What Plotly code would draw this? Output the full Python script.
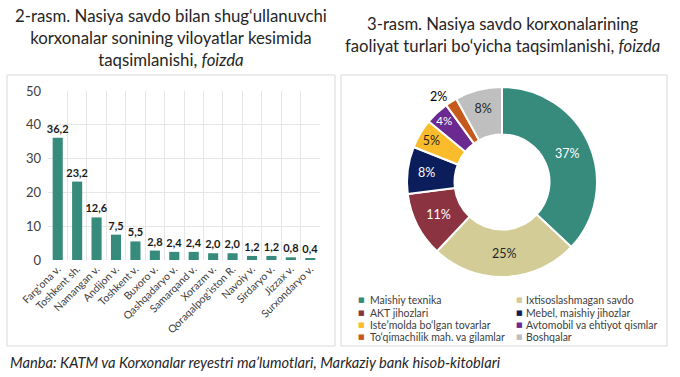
import plotly.graph_objects as go

W, H = 680, 377

# ---------------- data ----------------
regions = ["Farg‘ona v.", "Toshkent sh.", "Namangan v.", "Andijon v.", "Toshkent v.",
           "Buxoro v.", "Qashqadaryo v.", "Samarqand v.", "Xorazm v.", "Qoraqalpog‘iston R.",
           "Navoiy v.", "Sirdaryo v.", "Jizzax v.", "Surxondaryo v."]
region_share = [36.2, 23.2, 12.6, 7.5, 5.5, 2.8, 2.4, 2.4, 2.0, 2.0, 1.2, 1.2, 0.8, 0.4]
y_ticks = [0, 10, 20, 30, 40, 50]

activities = ["Maishiy texnika", "Ixtisoslashmagan savdo", "AKT jihozlari", "Mebel, maishiy jihozlar",
              "Iste’molda bo‘lgan tovarlar", "Avtomobil va ehtiyot qismlar",
              "To‘qimachilik mah. va gilamlar", "Boshqalar"]
activity_share = [37, 25, 11, 8, 5, 4, 2, 8]

title_left = "2-rasm. Nasiya savdo bilan shug‘ullanuvchi<br>korxonalar sonining viloyatlar kesimida<br>taqsimlanishi, <i>foizda</i>"
title_right = "3-rasm. Nasiya savdo korxonalarining<br>faoliyat turlari bo‘yicha taqsimlanishi, <i>foizda</i>"
source_note = "<i>Manba: KATM va Korxonalar reyestri ma’lumotlari, Markaziy bank hisob-kitoblari</i>"

# ---------------- styles ----------------
FONT = "Lato"
TEAL = "#378b7c"
pie_colors = ["#378b7c", "#d3cc96", "#8b3341", "#0b1e5b", "#fbbc2c", "#6b2a90", "#c65a1d", "#bfbfbf"]
pie_text_colors = ["white", "#262626", "white", "white", "#262626", "white", "black", "#262626"]
pie_text_pos = ["inside"] * 6 + ["outside", "inside"]


def px(x):
    return x / W


def py(y):
    return 1 - y / H


fig = go.Figure()

fig.add_trace(go.Bar(
    x=regions, y=region_share,
    marker=dict(color=TEAL, line=dict(width=0)),
    texttemplate="%{y:.1f}", textposition="outside", cliponaxis=False, constraintext="none",
    textfont=dict(family=FONT, size=11, color="#1a1a1a", weight="bold"),
    xaxis="x", yaxis="y", showlegend=False,
))

fig.add_trace(go.Pie(
    labels=activities, values=activity_share, sort=False, direction="clockwise", rotation=0,
    hole=0.5, domain=dict(x=[px(407), px(597)], y=[py(277), py(87)]),
    marker=dict(colors=pie_colors, line=dict(color="white", width=2)),
    texttemplate="%{value}%", textposition=pie_text_pos, insidetextorientation="horizontal",
    textfont=dict(family=FONT, size=12.5, color=pie_text_colors),
    outsidetextfont=dict(family=FONT, size=12.5, color="black"),
    showlegend=False,
))

fig.update_layout(
    width=W, height=H,
    margin=dict(l=0, r=0, t=0, b=0, autoexpand=False),
    paper_bgcolor="white", plot_bgcolor="white",
    separators=", ",
    font=dict(family=FONT, color="#404040"),
    bargap=0.48,
    xaxis=dict(domain=[px(48), px(320)], type="category", range=[-0.5, len(regions) - 0.5],
               tickson="boundaries", showgrid=True, gridcolor="#e6e6e6", gridwidth=1,
               tickangle=-45, ticks="", tickfont=dict(family=FONT, size=10.5, color="#404040"),
               showline=False, zeroline=False, anchor="y", automargin=False),
    yaxis=dict(domain=[py(260), py(91)], range=[0, 50], tickvals=y_ticks,
               showgrid=True, gridcolor="#e6e6e6", gridwidth=1, zeroline=False,
               tickfont=dict(family=FONT, size=13, color="#404040"), ticklabelstandoff=6,
               anchor="x", automargin=False),
)

# panel frames
for x0, x1 in [(7, 335), (341, 667)]:
    fig.add_shape(type="rect", xref="paper", yref="paper",
                  x0=px(x0), x1=px(x1), y0=py(346), y1=py(75),
                  line=dict(color="#d9d9d9", width=1), fillcolor="rgba(0,0,0,0)", layer="below")

# titles
fig.add_annotation(text=title_left, x=px(171), y=py(37), xref="paper", yref="paper",
                   showarrow=False, xanchor="center", yanchor="middle", align="center",
                   font=dict(family=FONT, size=16.8, color="#262626"))
fig.add_annotation(text=title_right, x=px(502), y=py(35), xref="paper", yref="paper",
                   showarrow=False, xanchor="center", yanchor="middle", align="center",
                   font=dict(family=FONT, size=16.7, color="#262626"))

# legend for pie (two columns)
row_y = [300, 312.5, 325, 337]
col_x = [361, 519]
txt_dx = [7, 5]
for i, (lab, col) in enumerate(zip(activities, pie_colors)):
    r, c = divmod(i, 2)
    fig.add_annotation(text="■", x=px(col_x[c]), y=py(row_y[r]), xref="paper", yref="paper",
                       showarrow=False, xanchor="center", yanchor="middle",
                       font=dict(family="DejaVu Sans", size=7, color=col))
    fig.add_annotation(text=lab, x=px(col_x[c] + txt_dx[c]), y=py(row_y[r]), xref="paper", yref="paper",
                       showarrow=False, xanchor="left", yanchor="middle",
                       font=dict(family=FONT, size=10.5, color="#404040"))

# source note
fig.add_annotation(text=source_note, x=px(8), y=py(362), xref="paper", yref="paper",
                   showarrow=False, xanchor="left", yanchor="middle",
                   font=dict(family=FONT, size=14.7, color="#262626"))

fig.write_html("out.html", config={"displayModeBar": False},
               post_script="document.body.style.margin='0';")
